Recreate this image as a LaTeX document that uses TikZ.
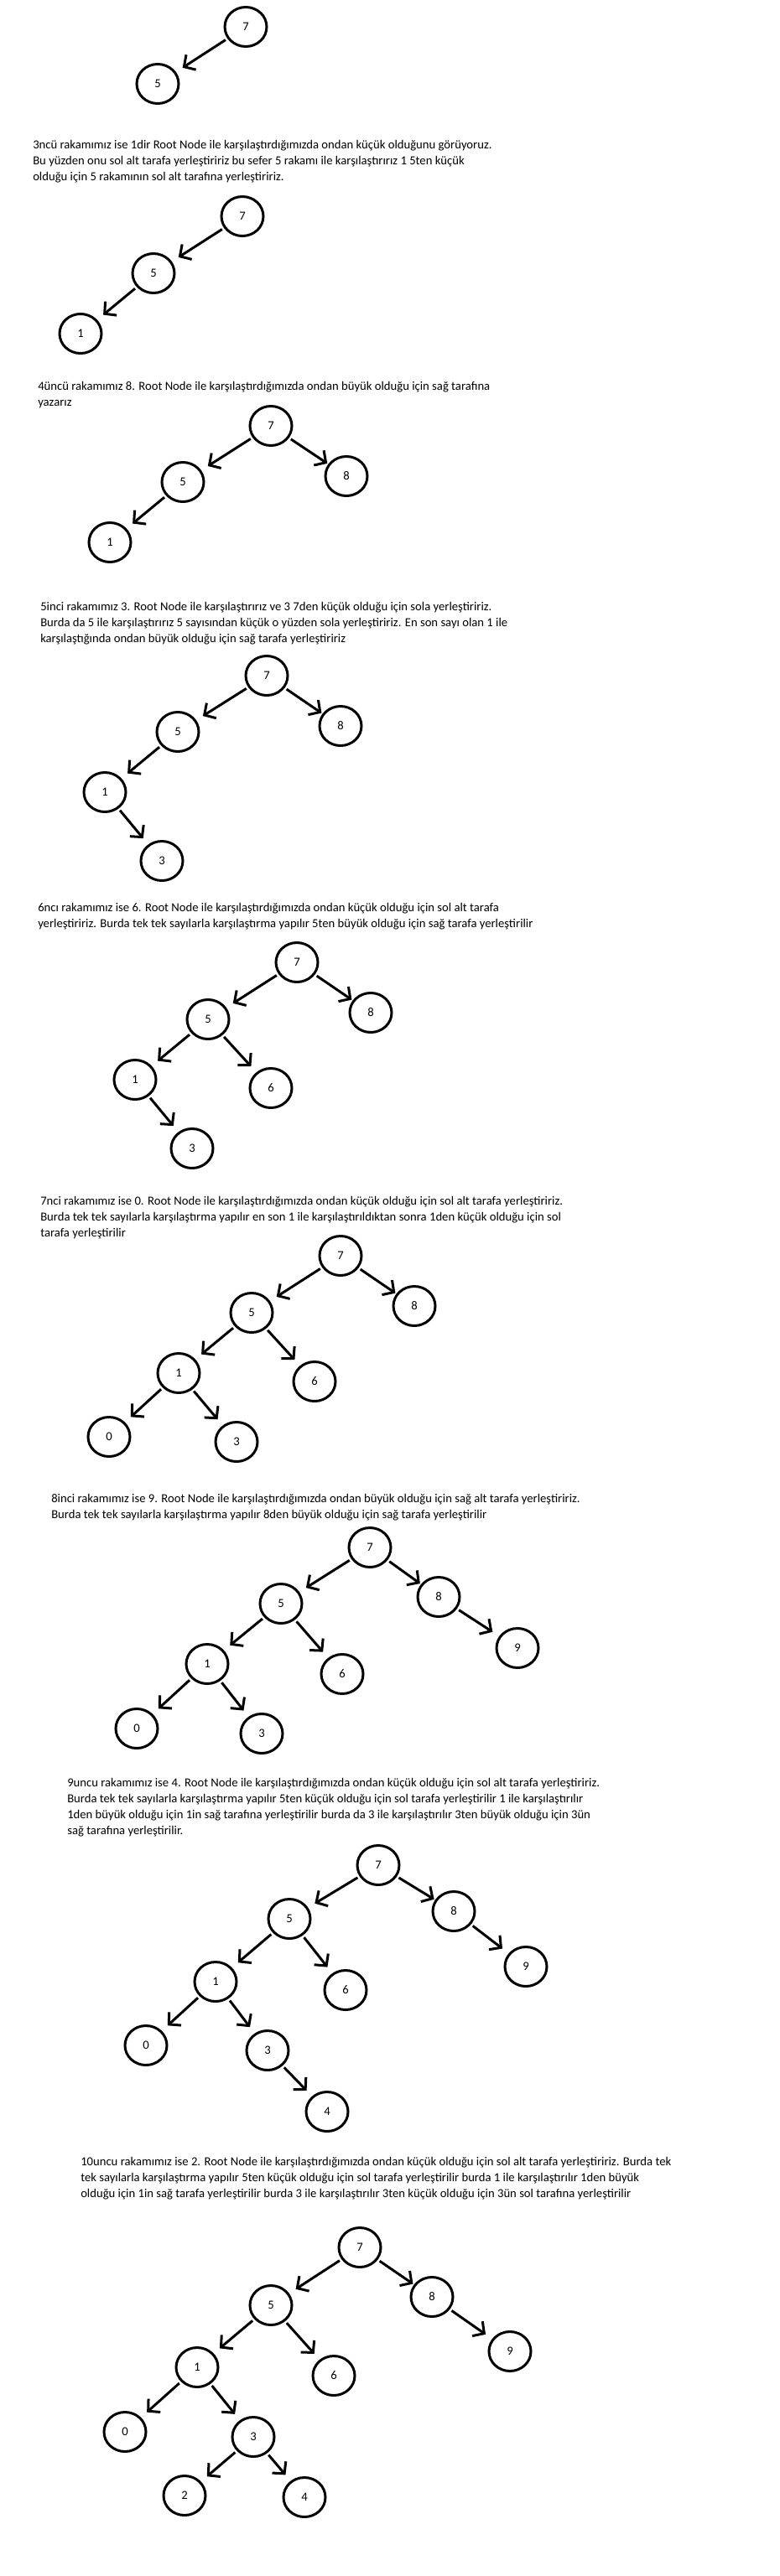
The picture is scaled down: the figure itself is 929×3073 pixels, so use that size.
\documentclass[tikz,border=0pt]{standalone}
\usepackage{fontspec}
\setmainfont{Carlito}
\usetikzlibrary{arrows.meta,shapes.geometric}
\tikzset{
  bnode/.style={ellipse,draw=black,line width=2.25pt,minimum width=37.5pt,minimum height=35.25pt,inner sep=0pt,font=\fontsize{11}{13}\selectfont},
  edg/.style={draw=black,line width=2.25pt,-{Straight Barb[length=7.5pt,width=16pt]},shorten <=2pt,shorten >=7pt},
  edgR/.style={edg,shorten >=1pt},
  para/.style={anchor=north west,inner sep=0pt,align=left,font=\fontsize{11}{14.25}\selectfont}
}
\begin{document}
\begin{tikzpicture}[x=0.75pt,y=-0.75pt]
\useasboundingbox[fill=white] (0,0) rectangle (929,3073);

% Tree A
\node[bnode] (a7) at (293,32) {7};
\node[bnode] (a5) at (188,100) {5};
\draw[edg] (a7) -- (a5);

\node[para] (s1) at (39,164) {\strut 3ncü rakamımız ise 1dir Root Node ile karşılaştırdığımızda ondan küçük olduğunu görüyoruz.\\Bu yüzden onu sol alt tarafa yerleştiririz bu sefer 5 rakamı ile karşılaştırırız 1 5ten küçük\\olduğu için 5 rakamının sol alt tarafına yerleştiririz.};

% Tree B
\node[bnode] (b7) at (289,258) {7};
\node[bnode] (b5) at (183,326) {5};
\node[bnode] (b1) at (96,398) {1};
\draw[edg] (b7) -- (b5);
\draw[edg] (b5) -- (b1);

\node[para] (s2) at (45,452) {\strut 4üncü rakamımız 8. Root Node ile karşılaştırdığımızda ondan büyük olduğu için sağ tarafına\\yazarız};

% Tree C
\node[bnode] (c7) at (323,508) {7};
\node[bnode] (c8) at (413,568) {8};
\node[bnode] (c5) at (218,575) {5};
\node[bnode] (c1) at (131,647) {1};
\draw[edg] (c7) -- (c5);
\draw[edgR] (c7) -- (c8);
\draw[edg] (c5) -- (c1);

\node[para] (s3) at (48,715) {\strut 5inci rakamımız 3. Root Node ile karşılaştırırız ve 3 7den küçük olduğu için sola yerleştiririz.\\Burda da 5 ile karşılaştırırız 5 sayısından küçük o yüzden sola yerleştiririz. En son sayı olan 1 ile\\karşılaştığında ondan büyük olduğu için sağ tarafa yerleştiririz};

% Tree D
\node[bnode] (d7) at (318,806) {7};
\node[bnode] (d8) at (406,866) {8};
\node[bnode] (d5) at (212,873) {5};
\node[bnode] (d1) at (125,945) {1};
\node[bnode] (d3) at (193,1027) {3};
\draw[edg] (d7) -- (d5);
\draw[edgR] (d7) -- (d8);
\draw[edg] (d5) -- (d1);
\draw[edg] (d1) -- (d3);

\node[para] (s4) at (45,1074) {\strut 6ncı rakamımız ise 6. Root Node ile karşılaştırdığımızda ondan küçük olduğu için sol alt tarafa\\yerleştiririz. Burda tek tek sayılarla karşılaştırma yapılır 5ten büyük olduğu için sağ tarafa yerleştirilir};

% Tree E
\node[bnode] (e7) at (354,1148) {7};
\node[bnode] (e8) at (442,1208) {8};
\node[bnode] (e5) at (248,1216) {5};
\node[bnode] (e6) at (323,1298) {6};
\node[bnode] (e1) at (161,1288) {1};
\node[bnode] (e3) at (229,1370) {3};
\draw[edg] (e7) -- (e5);
\draw[edgR] (e7) -- (e8);
\draw[edg] (e5) -- (e1);
\draw[edg] (e5) -- (e6);
\draw[edg] (e1) -- (e3);

\node[para] (s5) at (48,1424) {\strut 7nci rakamımız ise 0. Root Node ile karşılaştırdığımızda ondan küçük olduğu için sol alt tarafa yerleştiririz.\\Burda tek tek sayılarla karşılaştırma yapılır en son 1 ile karşılaştırıldıktan sonra 1den küçük olduğu için sol\\tarafa yerleştirilir};

% Tree F
\node[bnode] (f7) at (406,1498) {7};
\node[bnode] (f8) at (494,1558) {8};
\node[bnode] (f5) at (300,1566) {5};
\node[bnode] (f1) at (213,1638) {1};
\node[bnode] (f6) at (375,1648) {6};
\node[bnode] (f0) at (130,1714) {0};
\node[bnode] (f3) at (282,1720) {3};
\draw[edg] (f7) -- (f5);
\draw[edgR] (f7) -- (f8);
\draw[edg] (f5) -- (f1);
\draw[edg] (f5) -- (f6);
\draw[edg] (f1) -- (f0);
\draw[edg] (f1) -- (f3);

\node[para] (s6) at (61,1779) {\strut 8inci rakamımız ise 9. Root Node ile karşılaştırdığımızda ondan büyük olduğu için sağ alt tarafa yerleştiririz.\\Burda tek tek sayılarla karşılaştırma yapılır 8den büyük olduğu için sağ tarafa yerleştirilir};

% Tree G
\node[bnode] (g7) at (441,1846) {7};
\node[bnode] (g8) at (523,1905) {8};
\node[bnode] (g9) at (617,1966) {9};
\node[bnode] (g5) at (335,1913) {5};
\node[bnode] (g1) at (247,1985) {1};
\node[bnode] (g6) at (408,1997) {6};
\node[bnode] (g0) at (163,2062) {0};
\node[bnode] (g3) at (312,2068) {3};
\draw[edg] (g7) -- (g5);
\draw[edgR] (g7) -- (g8);
\draw[edg] (g8) -- (g9);
\draw[edg] (g5) -- (g1);
\draw[edg] (g5) -- (g6);
\draw[edg] (g1) -- (g0);
\draw[edg] (g1) -- (g3);

\node[para] (s7) at (80,2118) {\strut 9uncu rakamımız ise 4. Root Node ile karşılaştırdığımızda ondan küçük olduğu için sol alt tarafa yerleştiririz.\\Burda tek tek sayılarla karşılaştırma yapılır 5ten küçük olduğu için sol tarafa yerleştirilir 1 ile karşılaştırılır\\1den büyük olduğu için 1in sağ tarafına yerleştirilir burda da 3 ile karşılaştırılır 3ten büyük olduğu için 3ün\\sağ tarafına yerleştirilir.};

% Tree H
\node[bnode] (h7) at (451,2225) {7};
\node[bnode] (h8) at (541,2280) {8};
\node[bnode] (h9) at (627,2346) {9};
\node[bnode] (h5) at (345,2289) {5};
\node[bnode] (h6) at (412,2374) {6};
\node[bnode] (h1) at (257,2364) {1};
\node[bnode] (h0) at (174,2440) {0};
\node[bnode] (h3) at (319,2446) {3};
\node[bnode] (h4) at (390,2519) {4};
\draw[edg] (h7) -- (h5);
\draw[edgR] (h7) -- (h8);
\draw[edg] (h8) -- (h9);
\draw[edg] (h5) -- (h1);
\draw[edg] (h5) -- (h6);
\draw[edg] (h1) -- (h0);
\draw[edg] (h1) -- (h3);
\draw[edg] (h3) -- (h4);

\node[para] (s8) at (96,2570) {\strut 10uncu rakamımız ise 2. Root Node ile karşılaştırdığımızda ondan küçük olduğu için sol alt tarafa yerleştiririz. Burda tek\\tek sayılarla karşılaştırma yapılır 5ten küçük olduğu için sol tarafa yerleştirilir burda 1 ile karşılaştırılır 1den büyük\\olduğu için 1in sağ tarafa yerleştirilir burda 3 ile karşılaştırılır 3ten küçük olduğu için 3ün sol tarafına yerleştirilir};

% Tree I
\node[bnode] (i7) at (429,2681) {7};
\node[bnode] (i8) at (515,2740) {8};
\node[bnode] (i9) at (608,2805) {9};
\node[bnode] (i5) at (323,2750) {5};
\node[bnode] (i6) at (398,2834) {6};
\node[bnode] (i1) at (235,2824) {1};
\node[bnode] (i0) at (149,2901) {0};
\node[bnode] (i3) at (302,2907) {3};
\node[bnode] (i2) at (220,2977) {2};
\node[bnode] (i4) at (363,2979) {4};
\draw[edg] (i7) -- (i5);
\draw[edgR] (i7) -- (i8);
\draw[edg] (i8) -- (i9);
\draw[edg] (i5) -- (i1);
\draw[edg] (i5) -- (i6);
\draw[edg] (i1) -- (i0);
\draw[edg] (i1) -- (i3);
\draw[edg] (i3) -- (i2);
\draw[edg] (i3) -- (i4);
\end{tikzpicture}
\end{document}
